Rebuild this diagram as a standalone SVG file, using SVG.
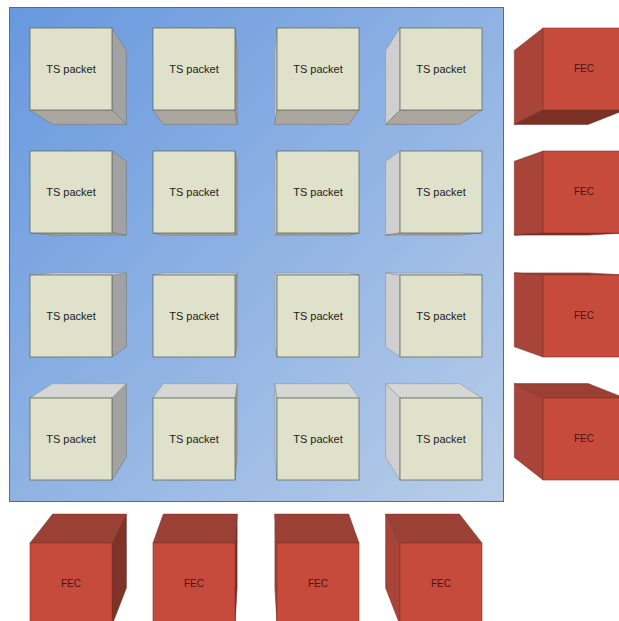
<svg xmlns="http://www.w3.org/2000/svg" width="619" height="621" viewBox="0 0 619 621">
<defs>
<linearGradient id="bg" x1="0" y1="0" x2="1" y2="1">
<stop offset="0" stop-color="#6798de"/>
<stop offset="0.55" stop-color="#93b5e4"/>
<stop offset="1" stop-color="#b9cde8"/>
</linearGradient>
<style>
.front{fill:#dfe1cb;stroke:#5f6b5c;stroke-width:0.8}
.rt{fill:#a2a2a2;stroke:#6e6e6e;stroke-width:0.5}
.bt{fill:#aba79f;stroke:#6e6e6e;stroke-width:0.5}
.lf{fill:#cfcfcf;stroke:#8a8a8a;stroke-width:0.5}
.tp{fill:#d6d6d4;stroke:#8a8a8a;stroke-width:0.5}
.ffront{fill:#c64b3d;stroke:#8a3126;stroke-width:0.6}
.flf{fill:#a9443a;stroke:#7a2c22;stroke-width:0.5}
.frt{fill:#7f3328;stroke:#5e241b;stroke-width:0.5}
.ftp{fill:#9b4034;stroke:#7a2c22;stroke-width:0.5}
.fbt{fill:#7c3127;stroke:#5e241b;stroke-width:0.5}
.ts{font-family:"Liberation Sans",Arial,sans-serif;font-size:11px;fill:#222;text-anchor:middle}
.fec{font-family:"Liberation Sans",Arial,sans-serif;font-size:10px;fill:#4a1510;text-anchor:middle}
</style>
</defs>
<rect width="619" height="621" fill="#ffffff"/>
<rect id="panel" x="9.5" y="7.5" width="494" height="494" fill="url(#bg)" stroke="#4d6d98" stroke-width="1"/>

<g id="ts-r1c1"><polygon class="rt" points="112,28 126.4,50.6 126.4,124.4 112,110"/><polygon class="bt" points="30,110 112,110 126.4,124.4 52.6,124.4"/><rect class="front" x="30" y="28" width="82" height="82"/><text class="ts" x="71" y="73">TS packet</text></g>
<g id="ts-r1c2"><polygon class="rt" points="235,28 237.1,50.6 237.1,124.4 235,110"/><polygon class="bt" points="153,110 235,110 237.1,124.4 163.3,124.4"/><rect class="front" x="153" y="28" width="82" height="82"/><text class="ts" x="194" y="73">TS packet</text></g>
<g id="ts-r1c3"><polygon class="lf" points="277,28 274.9,50.6 274.9,124.4 277,110"/><polygon class="bt" points="277,110 359,110 348.7,124.4 274.9,124.4"/><rect class="front" x="277" y="28" width="82" height="82"/><text class="ts" x="318" y="73">TS packet</text></g>
<g id="ts-r1c4"><polygon class="lf" points="400,28 385.6,50.6 385.6,124.4 400,110"/><polygon class="bt" points="400,110 482,110 459.4,124.4 385.6,124.4"/><rect class="front" x="400" y="28" width="82" height="82"/><text class="ts" x="441" y="73">TS packet</text></g>

<g id="ts-r2c1"><polygon class="rt" points="112,151 126.4,161.3 126.4,235.1 112,233"/><polygon class="bt" points="30,233 112,233 126.4,235.1 52.6,235.1"/><rect class="front" x="30" y="151" width="82" height="82"/><text class="ts" x="71" y="196">TS packet</text></g>
<g id="ts-r2c2"><polygon class="rt" points="235,151 237.1,161.3 237.1,235.1 235,233"/><polygon class="bt" points="153,233 235,233 237.1,235.1 163.3,235.1"/><rect class="front" x="153" y="151" width="82" height="82"/><text class="ts" x="194" y="196">TS packet</text></g>
<g id="ts-r2c3"><polygon class="lf" points="277,151 274.9,161.3 274.9,235.1 277,233"/><polygon class="bt" points="277,233 359,233 348.7,235.1 274.9,235.1"/><rect class="front" x="277" y="151" width="82" height="82"/><text class="ts" x="318" y="196">TS packet</text></g>
<g id="ts-r2c4"><polygon class="lf" points="400,151 385.6,161.3 385.6,235.1 400,233"/><polygon class="bt" points="400,233 482,233 459.4,235.1 385.6,235.1"/><rect class="front" x="400" y="151" width="82" height="82"/><text class="ts" x="441" y="196">TS packet</text></g>

<g id="ts-r3c1"><polygon class="rt" points="112,275 126.4,272.9 126.4,346.7 112,357"/><polygon class="tp" points="30,275 112,275 126.4,272.9 52.6,272.9"/><rect class="front" x="30" y="275" width="82" height="82"/><text class="ts" x="71" y="320">TS packet</text></g>
<g id="ts-r3c2"><polygon class="rt" points="235,275 237.1,272.9 237.1,346.7 235,357"/><polygon class="tp" points="153,275 235,275 237.1,272.9 163.3,272.9"/><rect class="front" x="153" y="275" width="82" height="82"/><text class="ts" x="194" y="320">TS packet</text></g>
<g id="ts-r3c3"><polygon class="lf" points="277,275 274.9,272.9 274.9,346.7 277,357"/><polygon class="tp" points="277,275 359,275 348.7,272.9 274.9,272.9"/><rect class="front" x="277" y="275" width="82" height="82"/><text class="ts" x="318" y="320">TS packet</text></g>
<g id="ts-r3c4"><polygon class="lf" points="400,275 385.6,272.9 385.6,346.7 400,357"/><polygon class="tp" points="400,275 482,275 459.4,272.9 385.6,272.9"/><rect class="front" x="400" y="275" width="82" height="82"/><text class="ts" x="441" y="320">TS packet</text></g>

<g id="ts-r4c1"><polygon class="rt" points="112,398 126.4,383.6 126.4,457.4 112,480"/><polygon class="tp" points="30,398 112,398 126.4,383.6 52.6,383.6"/><rect class="front" x="30" y="398" width="82" height="82"/><text class="ts" x="71" y="443">TS packet</text></g>
<g id="ts-r4c2"><polygon class="rt" points="235,398 237.1,383.6 237.1,457.4 235,480"/><polygon class="tp" points="153,398 235,398 237.1,383.6 163.3,383.6"/><rect class="front" x="153" y="398" width="82" height="82"/><text class="ts" x="194" y="443">TS packet</text></g>
<g id="ts-r4c3"><polygon class="lf" points="277,398 274.9,383.6 274.9,457.4 277,480"/><polygon class="tp" points="277,398 359,398 348.7,383.6 274.9,383.6"/><rect class="front" x="277" y="398" width="82" height="82"/><text class="ts" x="318" y="443">TS packet</text></g>
<g id="ts-r4c4"><polygon class="lf" points="400,398 385.6,383.6 385.6,457.4 400,480"/><polygon class="tp" points="400,398 482,398 459.4,383.6 385.6,383.6"/><rect class="front" x="400" y="398" width="82" height="82"/><text class="ts" x="441" y="443">TS packet</text></g>

<g id="fec-r1"><polygon class="flf" points="543,28 514.3,50.6 514.3,124.4 543,110"/><polygon class="fbt" points="543,110 625,110 588.1,124.4 514.3,124.4"/><rect class="ffront" x="543" y="28" width="82" height="82"/><text class="fec" x="584" y="72">FEC</text></g>
<g id="fec-r2"><polygon class="flf" points="543,151 514.3,161.3 514.3,235.1 543,233"/><polygon class="fbt" points="543,233 625,233 588.1,235.1 514.3,235.1"/><rect class="ffront" x="543" y="151" width="82" height="82"/><text class="fec" x="584" y="195">FEC</text></g>
<g id="fec-r3"><polygon class="flf" points="543,275 514.3,272.9 514.3,346.7 543,357"/><polygon class="ftp" points="543,275 625,275 588.1,272.9 514.3,272.9"/><rect class="ffront" x="543" y="275" width="82" height="82"/><text class="fec" x="584" y="319">FEC</text></g>
<g id="fec-r4"><polygon class="flf" points="543,398 514.3,383.6 514.3,457.4 543,480"/><polygon class="ftp" points="543,398 625,398 588.1,383.6 514.3,383.6"/><rect class="ffront" x="543" y="398" width="82" height="82"/><text class="fec" x="584" y="442">FEC</text></g>

<g id="fec-c1"><polygon class="frt" points="112,543 126.4,514.1 126.4,587.9 112,625"/><polygon class="ftp" points="30,543 112,543 126.4,514.1 52.6,514.1"/><rect class="ffront" x="30" y="543" width="82" height="82"/><text class="fec" x="71" y="587">FEC</text></g>
<g id="fec-c2"><polygon class="frt" points="235,543 237.1,514.1 237.1,587.9 235,625"/><polygon class="ftp" points="153,543 235,543 237.1,514.1 163.3,514.1"/><rect class="ffront" x="153" y="543" width="82" height="82"/><text class="fec" x="194" y="587">FEC</text></g>
<g id="fec-c3"><polygon class="flf" points="277,543 274.9,514.1 274.9,587.9 277,625"/><polygon class="ftp" points="277,543 359,543 348.7,514.1 274.9,514.1"/><rect class="ffront" x="277" y="543" width="82" height="82"/><text class="fec" x="318" y="587">FEC</text></g>
<g id="fec-c4"><polygon class="flf" points="400,543 385.6,514.1 385.6,587.9 400,625"/><polygon class="ftp" points="400,543 482,543 459.4,514.1 385.6,514.1"/><rect class="ffront" x="400" y="543" width="82" height="82"/><text class="fec" x="441" y="587">FEC</text></g>
</svg>
